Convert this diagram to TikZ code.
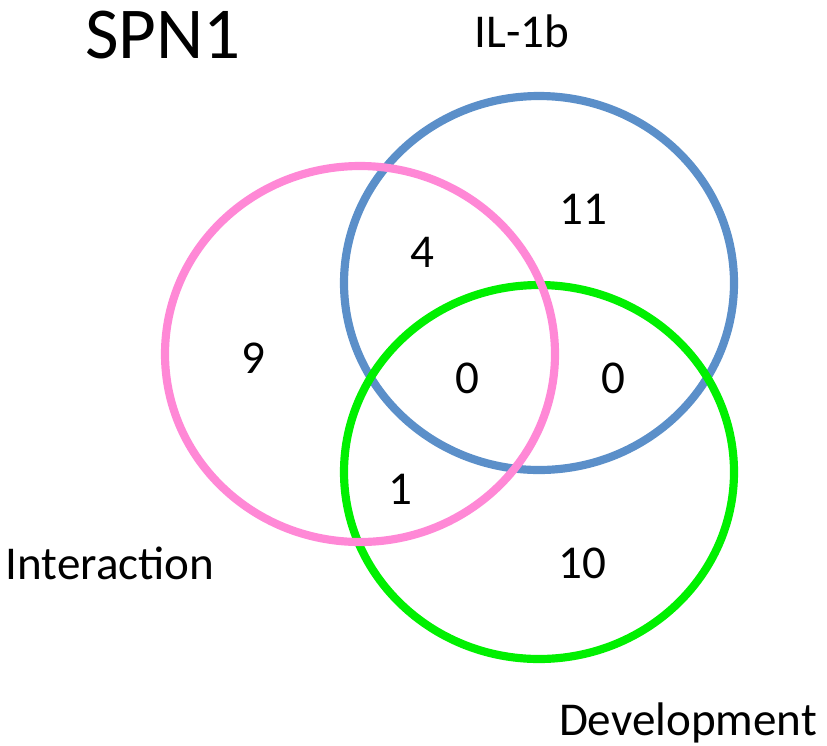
\documentclass[tikz,border=0pt]{standalone}
\usepackage{fontspec}
\setmainfont{Carlito}
\usetikzlibrary{positioning}

\definecolor{ilblue}{RGB}{91,143,201}
\definecolor{intpink}{RGB}{255,136,214}
\definecolor{devgreen}{RGB}{0,240,0}

\begin{document}
\begin{tikzpicture}[x=0.025cm,y=-0.025cm,
set/.style = {line width=5.8pt},
label/.style = {anchor=base, inner sep=0pt, font=\fontsize{33.5}{40}\selectfont},
count/.style = {anchor=base, inner sep=0pt, font=\fontsize{33.5}{40}\selectfont},
title/.style = {anchor=base, inner sep=0pt, font=\fontsize{52}{62}\selectfont}]

\useasboundingbox (0,0) rectangle (827,745);

% the three sets
\draw [set, ilblue] (539,283) ellipse [x radius=195, y radius=187];
\draw [set, devgreen] (539,472) ellipse [x radius=195, y radius=187];
\draw [set, intpink] (360,354) ellipse [x radius=195, y radius=188];

% titles
\node [title] (spn) at (163,58) {SPN1};
\node [label] (il) at (522,47) {IL-1b};
\node [label] (inter) at (110,579) {Interaction};
\node [label] (dev) at (688,735) {Development};

% counts
\node [count] (c11) at (583,224) {11};
\node [count] (c4) at (422,267) {4};
\node [count] (c9) at (253,373) {9};
\node [count] (c0a) at (467,393) {0};
\node [count] (c0b) at (613,393) {0};
\node [count] (c1) at (400,504) {1};
\node [count] (c10) at (582,578) {10};
\end{tikzpicture}
\end{document}
